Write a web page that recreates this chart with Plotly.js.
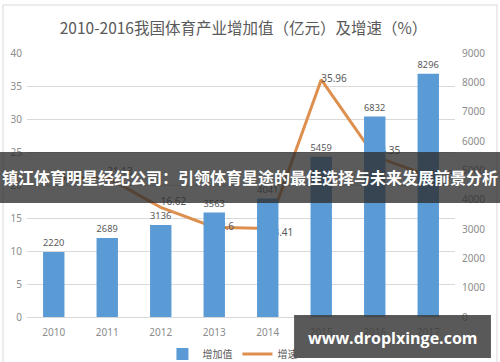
<!DOCTYPE html>
<html><head><meta charset="utf-8">
<script src="https://cdn.plot.ly/plotly-3.0.1.min.js"></script>
<style>html,body{margin:0;padding:0;background:#fff;}#chart{width:500px;height:362px;}</style>
</head><body><div id="chart"></div>
<script>
const years = ['2010','2011','2012','2013','2014','2015','2016','2017'];
const valueAdded = [2220, 2689, 3136, 3563, 4041, 5459, 6832, 8296];
const growthRate = [20.95, 21.13, 16.62, 13.6, 13.41, 35.96, 24.35, 21.43];
const growthLabelPos = ['middle right','top right','top right','middle right','bottom right','middle right','top right','middle right'];
const leftTicks = [0,5,10,15,20,25,30,35,40];
const rightTicks = [0,1000,2000,3000,4000,5000,6000,7000,8000,9000];
const titleText = '2010-2016我国体育产业增加值（亿元）及增速（%）';
const bannerText = '镇江体育明星经纪公司：引领体育星途的最佳选择与未来发展前景分析';
const watermarkText = 'www.droplxinge.com';

const tickFont = {family: 'Noto Sans, DejaVu Sans, sans-serif', size: 10, color: '#8c8c8c'};

const traces = [
  {
    type: 'bar', name: '增加值', x: years, y: valueAdded, yaxis: 'y2',
    marker: {color: '#5b9bd5'},
    text: valueAdded.map(String), textposition: 'outside', cliponaxis: false,
    textfont: {family: 'Noto Sans, sans-serif', size: 10, color: '#595959'}
  },
  {
    type: 'scatter', mode: 'lines+text', name: '增速', x: years, y: growthRate, yaxis: 'y',
    line: {color: '#dd8f4e', width: 3},
    text: growthRate.map(v => String(v)), textposition: growthLabelPos, cliponaxis: false,
    textfont: {family: 'Noto Sans, sans-serif', size: 10, color: '#595959'}
  }
];

const layout = {
  width: 500, height: 362,
  margin: {l: 27, r: 45, t: 53, b: 45, autoexpand: false},
  paper_bgcolor: '#ffffff', plot_bgcolor: '#ffffff',
  showlegend: true,
  title: {text: titleText, x: 0.487, xref: 'container', y: 0.92, yanchor: 'middle',
          font: {family: 'Noto Sans CJK SC, sans-serif', size: 15.5, color: '#595959'}},
  bargap: 0.6,
  xaxis: {type: 'category', tickfont: tickFont, showline: true, linecolor: '#d9d9d9',
          ticks: '', ticklabelstandoff: 6},
  yaxis: {range: [0, 40], tickvals: leftTicks, tickfont: tickFont, showgrid: true,
          gridcolor: '#d9d9d9', zeroline: false, ticks: '', ticklabelstandoff: 4},
  yaxis2: {range: [0, 9000], tickvals: rightTicks, overlaying: 'y', side: 'right',
           tickfont: tickFont, showgrid: false, zeroline: false, ticks: '', ticklabelstandoff: 6},
  legend: {orientation: 'h', x: 0.48, xanchor: 'center', y: -0.14, yanchor: 'middle',
           bgcolor: 'rgba(0,0,0,0)',
           font: {family: 'Noto Sans CJK SC, sans-serif', size: 10, color: '#595959'}},
  shapes: [
    {type: 'rect', xref: 'paper', yref: 'paper', x0: -0.056, x1: 1.098, y0: -0.2, y1: 1.182,
     line: {color: '#d9d9d9', width: 1}, fillcolor: 'rgba(0,0,0,0)', layer: 'below'},
    {type: 'rect', xref: 'paper', yref: 'paper', x0: -0.07, x1: 1.11, y0: 0.432, y1: 0.625,
     line: {width: 0}, fillcolor: 'rgba(45,45,45,0.78)', layer: 'above'},
    {type: 'rect', xref: 'paper', yref: 'paper', x0: 0.624, x1: 1.084, y0: -0.155, y1: 0.008,
     line: {width: 0}, fillcolor: 'rgba(60,60,60,0.85)', layer: 'above'}
  ],
  annotations: [
    {text: '<b>' + bannerText + '</b>', xref: 'paper', yref: 'paper', x: 0.52, y: 0.53,
     xanchor: 'center', yanchor: 'middle',
     showarrow: false, font: {family: 'Noto Sans CJK SC, sans-serif', size: 16, color: '#ffffff'}},
    {text: '<b>' + watermarkText + '</b>', xref: 'paper', yref: 'paper', x: 0.854, y: -0.078,
     xanchor: 'center', yanchor: 'middle',
     showarrow: false, font: {family: 'Open Sans, Noto Sans, sans-serif', size: 16, color: '#ffffff'}}
  ]
};

Plotly.newPlot('chart', traces, layout, {displayModeBar: false, staticPlot: true});
</script>
</body></html>
